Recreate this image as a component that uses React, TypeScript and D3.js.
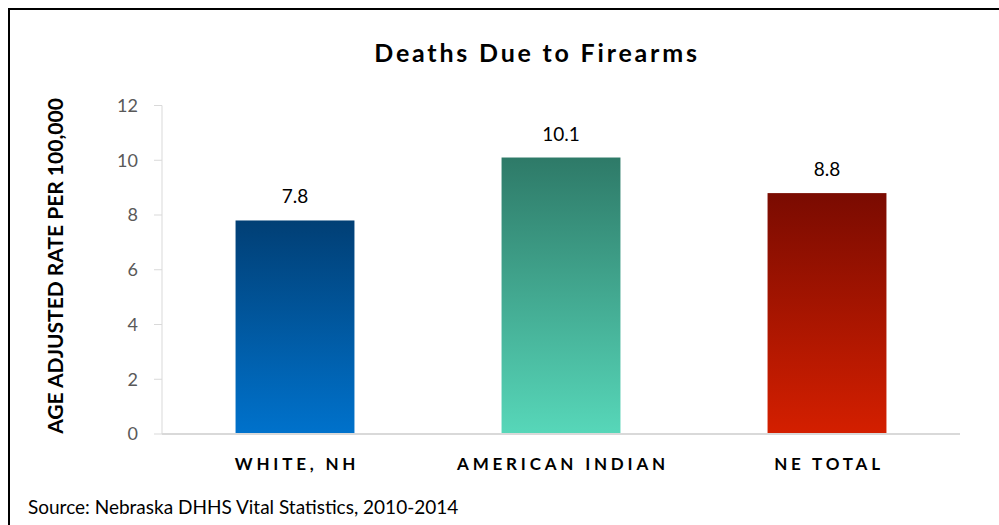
import React from "react";
import * as d3 from "d3";

const categories = ["WHITE, NH", "AMERICAN INDIAN", "NE TOTAL"];
const values = [7.8, 10.1, 8.8];
const yTicks = [0, 2, 4, 6, 8, 10, 12];
const gradients = [
  ["#013f75", "#0072cc"],
  ["#2e7a68", "#57d7b9"],
  ["#7a0b01", "#d41f00"],
];

const W = 999;
const H = 525;
const FONT = "Lato, 'Open Sans', sans-serif";

export default function App() {
  const x = d3.scaleBand<string>().domain(categories).range([162, 960]).paddingInner(0.553).paddingOuter(0.2765);
  const y = d3.scaleLinear().domain([0, 12]).range([434, 105.5]);
  const bw = x.bandwidth();
  return (
    <div style={{ position: "absolute", left: 0, top: 0 }}>
      <svg width={W} height={H} style={{ display: "block", background: "#fff" }}>
        <defs>
          {gradients.map((g, i) => (
            <linearGradient key={i} id={`g${i}`} x1="0" y1="0" x2="0" y2="1">
              <stop offset="0" stopColor={g[0]} />
              <stop offset="1" stopColor={g[1]} />
            </linearGradient>
          ))}
        </defs>
        <rect x={9} y={9} width={1100} height={700} fill="none" stroke="#000" strokeWidth={2} />
        <text x={537} y={62} textAnchor="middle" fontFamily={FONT} fontWeight="bold" fontSize={25} letterSpacing={2.8} fill="#000">
          Deaths Due to Firearms
        </text>
        <text
          transform={`translate(63,266) rotate(-90)`}
          textAnchor="middle"
          fontFamily={FONT}
          fontWeight="bold"
          fontSize={21}
          fill="#000"
        >
          AGE ADJUSTED RATE PER 100,000
        </text>
        {/* y axis */}
        <line x1={162} x2={162} y1={y(12)} y2={y(0)} stroke="#d9d9d9" strokeWidth={1} />
        {yTicks.map((t) => (
          <g key={t}>
            <line x1={154} x2={162} y1={y(t)} y2={y(t)} stroke="#d9d9d9" strokeWidth={1} />
            <text x={138} y={y(t)} dy="0.36em" textAnchor="end" fontFamily={FONT} fontSize={18} fill="#595959">
              {t}
            </text>
          </g>
        ))}
        {categories.map((c, i) => (
          <g key={c}>
            <rect x={x(c)} y={y(values[i])} width={bw} height={y(0) - y(values[i])} fill={`url(#g${i})`} />
            <text x={(x(c) as number) + bw / 2} y={y(values[i]) - 17} textAnchor="middle" fontFamily={FONT} fontSize={19} fill="#000">
              {values[i].toFixed(1)}
            </text>
            <text
              x={(x(c) as number) + bw / 2 + 2}
              y={470}
              textAnchor="middle"
              fontFamily={FONT}
              fontWeight="bold"
              fontSize={17}
              letterSpacing={3.8}
              fill="#000"
            >
              {c}
            </text>
          </g>
        ))}
        <line x1={162} x2={960} y1={y(0)} y2={y(0)} stroke="#d9d9d9" strokeWidth={2} />
        <text x={28} y={514} fontFamily={FONT} fontSize={19} fill="#000">
          Source: Nebraska DHHS Vital Statistics, 2010-2014
        </text>
      </svg>
    </div>
  );
}
